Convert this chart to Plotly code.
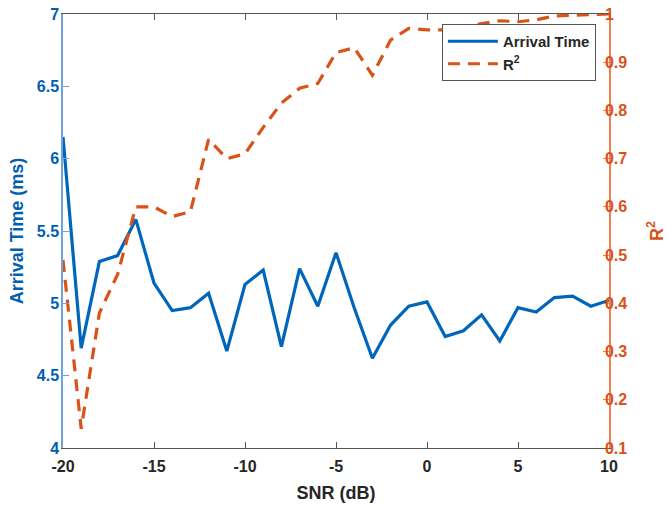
import plotly.graph_objects as go

snr = list(range(-20, 11))
arrival_time = [6.15, 4.69, 5.29, 5.33, 5.58, 5.14, 4.95, 4.97, 5.07, 4.67, 5.13,
                5.23, 4.70, 5.24, 4.98, 5.35, 4.97, 4.62, 4.85, 4.98, 5.01,
                4.77, 4.81, 4.92, 4.74, 4.97, 4.94, 5.04, 5.05, 4.98, 5.02]
r_squared = [0.49, 0.14, 0.38, 0.46, 0.60, 0.60, 0.58, 0.59, 0.74, 0.70, 0.71,
             0.765, 0.815, 0.846, 0.856, 0.92, 0.93, 0.873, 0.946, 0.97, 0.967,
             0.967, 0.974, 0.98, 0.986, 0.984, 0.988, 0.996, 0.997, 0.998, 1.0]
x_ticks = [-20, -15, -10, -5, 0, 5, 10]
x_labels = ["-20", "-15", "-10", "-5", "0", "5", "10"]
y1_ticks = [4, 4.5, 5, 5.5, 6, 6.5, 7]
y1_labels = ["4", "4.5", "5", "5.5", "6", "6.5", "7"]
y2_ticks = [0.1, 0.2, 0.3, 0.4, 0.5, 0.6, 0.7, 0.8, 0.9, 1]
y2_labels = ["0.1", "0.2", "0.3", "0.4", "0.5", "0.6", "0.7", "0.8", "0.9", "1"]

BLUE = "#0066BB"
BLUE_TXT = "#0060B0"
BLUE_AX = "#6FA3DA"
ORANGE = "#D95319"
ORANGE_AX = "#F08050"
FONT = "Liberation Sans"

fig = go.Figure()
fig.add_trace(go.Scatter(x=snr, y=arrival_time, mode="lines", name="Arrival Time",
                         line=dict(color=BLUE, width=3.2), yaxis="y"))
fig.add_trace(go.Scatter(x=snr, y=r_squared, mode="lines", name="R<sup>2</sup>",
                         line=dict(color=ORANGE, width=3.2, dash="12px,8px"), yaxis="y2"))

fig.update_layout(
    width=667, height=505,
    margin=dict(l=63, r=58, t=14, b=57),
    paper_bgcolor="white", plot_bgcolor="white",
    font=dict(family=FONT, size=15, color="#262626", weight="bold"),
    xaxis=dict(range=[-20, 10], tickvals=x_ticks, ticktext=x_labels, ticks="inside", ticklen=6,
               tickcolor="#555555", showline=True, linecolor="#555555", linewidth=1,
               mirror="ticks", showgrid=False, zeroline=False, automargin=False,
               ticklabelstandoff=4,
               tickfont=dict(family=FONT, size=16, color="#262626", weight="bold"),
               title=dict(text="SNR (dB)", font=dict(family=FONT, size=18, color="#262626", weight="bold"),
                          standoff=12)),
    yaxis=dict(range=[4, 7], tickvals=y1_ticks, ticktext=y1_labels,
               ticks="inside", ticklen=6, tickcolor=BLUE_AX, automargin=False,
               showline=True, linecolor=BLUE_AX, linewidth=1.5, showgrid=False, zeroline=False,
               ticklabelstandoff=-1,
               tickfont=dict(family=FONT, size=16, color=BLUE_TXT, weight="bold"),
               title=dict(text="Arrival Time (ms)", font=dict(family=FONT, size=18, color=BLUE_TXT, weight="bold"),
                          standoff=8)),
    yaxis2=dict(range=[0.1, 1], tickvals=y2_ticks, ticktext=y2_labels,
                overlaying="y", side="right", anchor="x", automargin=False,
                ticks="inside", ticklen=6, tickcolor=ORANGE_AX,
                showline=True, linecolor=ORANGE_AX, linewidth=1.5, showgrid=False, zeroline=False,
                ticklabelstandoff=-9,
                tickfont=dict(family=FONT, size=16, color=ORANGE, weight="bold"),
                title=dict(text="R<sup>2</sup>", font=dict(family=FONT, size=18, color=ORANGE, weight="bold"),
                           standoff=25)),
    legend=dict(x=0.976, y=0.977, xanchor="right", yanchor="top",
                bgcolor="white", bordercolor="#555555", borderwidth=1,
                font=dict(family=FONT, size=15, color="#262626", weight="bold"),
                itemwidth=50, tracegroupgap=0),
    showlegend=True,
)

fig.write_html("out.html")
